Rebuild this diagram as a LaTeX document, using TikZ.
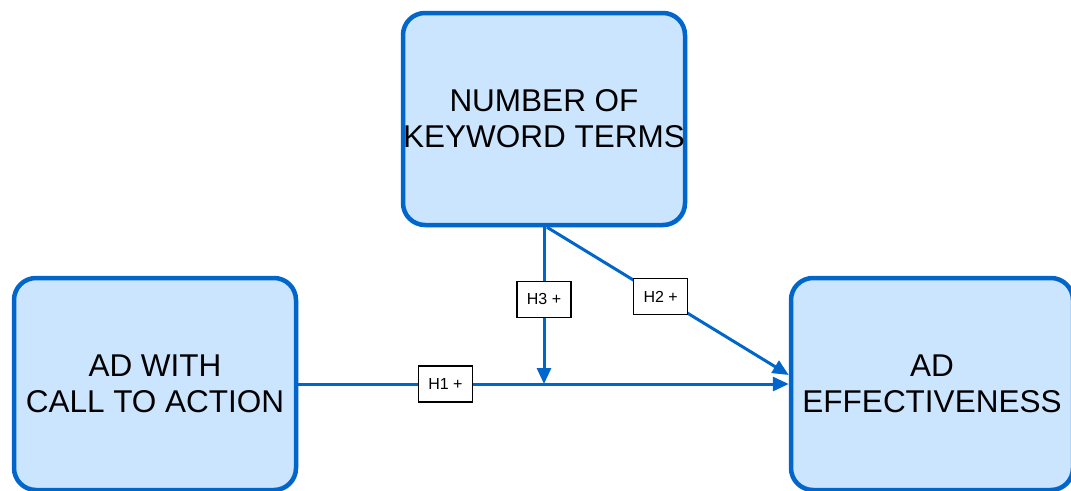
\documentclass[tikz,border=0pt]{standalone}
\usepackage{fontspec}
\setmainfont{Liberation Sans}
\usetikzlibrary{positioning,arrows.meta,shadows}
\tikzstyle{canvas} = [x = 1pt, y = -1pt]
\definecolor{boxLine}{RGB}{0,102,204}
\definecolor{boxFill}{RGB}{204,229,255}
\tikzstyle{conceptBox} = [draw=boxLine, fill=boxFill, line width=4.5pt, rounded corners=22pt, minimum width=282pt, minimum height=212pt, inner sep=0pt, align=center, font=\fontsize{31.5}{36}\selectfont, drop shadow={opacity=.25, shadow xshift=2pt, shadow yshift=-2pt}]
\tikzstyle{pathLine} = [draw=boxLine, line width=3pt, -{Triangle[length=16pt, width=14pt]}]
\tikzstyle{hypLabel} = [draw=black, fill=white, line width=1.5pt, minimum width=54pt, minimum height=36pt, inner sep=0pt, font=\fontsize{16}{18}\selectfont]

\begin{document}
\begin{tikzpicture}[canvas]
  \useasboundingbox (0,0) rectangle (1071,490);
  \clip (0,0) rectangle (1071,490);
  \node [conceptBox] (keywordTerms) at (544,119) {NUMBER OF\\KEYWORD TERMS};
  \node [conceptBox] (callToAction) at (155,384) {AD WITH\\CALL TO ACTION};
  \node [conceptBox] (adEffect) at (932,384) {AD\\EFFECTIVENESS};
  \coordinate (meetPoint) at (keywordTerms.south |- callToAction.east);

  \draw [pathLine] (callToAction) -- (adEffect) node [hypLabel, pos=.3] {H1 +};
  \draw [pathLine] (keywordTerms) -- (meetPoint) node [hypLabel, pos=.46] {H3 +};
  \draw [pathLine] ([xshift=3pt]keywordTerms.south) -- ([yshift=9pt]adEffect.west) node [hypLabel, pos=.47] {H2 +};
\end{tikzpicture}
\end{document}
